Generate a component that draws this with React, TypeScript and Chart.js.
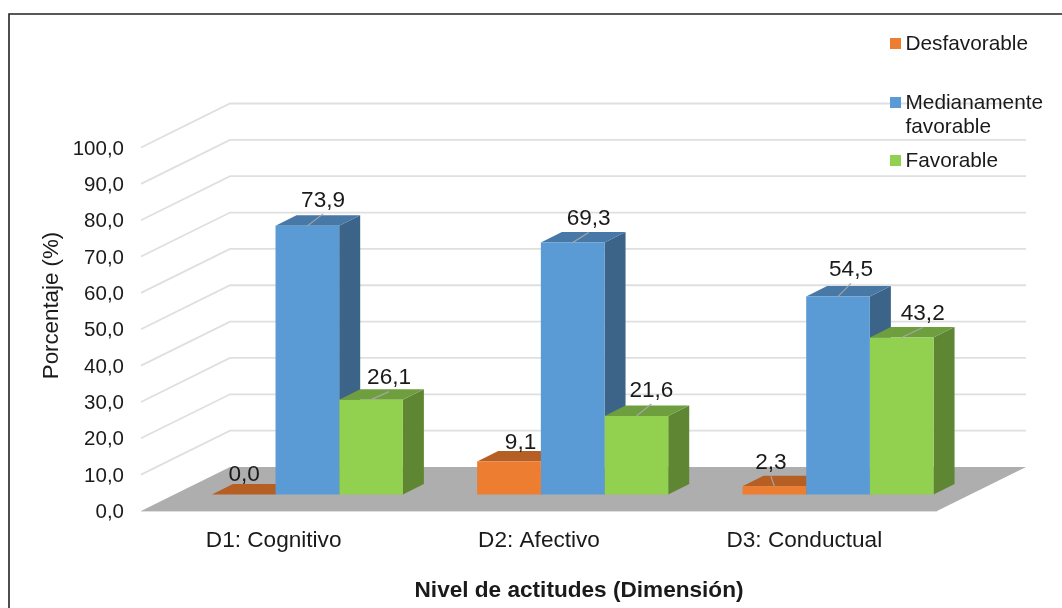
import React, { useEffect, useRef } from "react";
import { Chart, registerables } from "chart.js";

Chart.register(...registerables);

const categories = ["D1: Cognitivo", "D2: Afectivo", "D3: Conductual"];
const seriesNames = ["Desfavorable", "Medianamente favorable", "Favorable"];
const desfavorable = [0.0, 9.1, 2.3];
const medianamente = [73.9, 69.3, 54.5];
const favorable = [26.1, 21.6, 43.2];
const xTitle = "Nivel de actitudes (Dimensión)";
const yTitle = "Porcentaje (%)";

const FONT = '"Liberation Sans", Arial, sans-serif';
const TEXT = "#1a1a1a";
const FRONT = ["#ED7D31", "#5B9BD5", "#92D050"];
const TOP = ["#B55F25", "#4878A6", "#6E9E3D"];
const SIDE = ["#A85720", "#3C6488", "#5F8633"];
// 3D projection: how far the wall sits behind the axis plane, where bars stand, how deep they are
const WALL = { dx: 89, dy: -44 };
const BAR_PLANE = { dx: 33.7, dy: -16.5 };
const BAR_DEPTH = { dx: 21, dy: -10.5 };
// data-label offsets from the centre of each bar's top edge, by series then category
const LABEL_OFFSET = [
  [[0.5, -21], [11.5, -20], [-3.5, -25]],
  [[15.7, -27], [16, -25], [13, -28]],
  [[18, -23], [15, -27], [21, -25]],
];
const LEADER = [
  [false, false, true],
  [true, true, true],
  [true, true, true],
];

const fmt = (v: number) => v.toFixed(1).replace(".", ",");

const scene = {
  id: "scene",
  beforeDraw(chart: any) {
    const { ctx, width, height } = chart;
    ctx.save();
    ctx.fillStyle = "#fff";
    ctx.fillRect(0, 0, width, height);
    ctx.strokeStyle = "#222";
    ctx.lineWidth = 1.6;
    ctx.beginPath();
    ctx.moveTo(9, height);
    ctx.lineTo(9, 14);
    ctx.lineTo(width, 14);
    ctx.stroke();
    ctx.restore();
  },
  beforeDatasetsDraw(chart: any) {
    const { ctx, chartArea: a, scales } = chart;
    const y = scales.y;
    ctx.save();
    ctx.strokeStyle = "#dfdfdf";
    ctx.lineWidth = 1.8;
    for (const t of y.ticks) {
      const py = y.getPixelForValue(t.value);
      if (t.value === 0) continue;
      ctx.beginPath();
      ctx.moveTo(a.left, py);
      ctx.lineTo(a.left + WALL.dx, py + WALL.dy);
      ctx.lineTo(a.right + WALL.dx, py + WALL.dy);
      ctx.stroke();
    }
    const y0 = y.getPixelForValue(0);
    ctx.fillStyle = "#AEAEAE";
    ctx.beginPath();
    ctx.moveTo(a.left, y0);
    ctx.lineTo(a.right, y0);
    ctx.lineTo(a.right + WALL.dx, y0 + WALL.dy);
    ctx.lineTo(a.left + WALL.dx, y0 + WALL.dy);
    ctx.closePath();
    ctx.fill();
    ctx.strokeStyle = "#dfdfdf";
    ctx.lineWidth = 1;
    ctx.beginPath();
    ctx.moveTo(a.left, y0 + 0.5);
    ctx.lineTo(a.right, y0 + 0.5);
    ctx.stroke();
    ctx.restore();
    ctx.save();
    ctx.translate(BAR_PLANE.dx, BAR_PLANE.dy);
    // side and top faces, series left to right; the front faces are the library's bars drawn next
    chart.data.datasets.forEach((_: any, i: number) => {
      for (const bar of chart.getDatasetMeta(i).data) {
        const l = bar.x - bar.width / 2;
        const r = bar.x + bar.width / 2;
        const { dx, dy } = BAR_DEPTH;
        ctx.fillStyle = SIDE[i];
        ctx.beginPath();
        ctx.moveTo(r, bar.base);
        ctx.lineTo(r + dx, bar.base + dy);
        ctx.lineTo(r + dx, bar.y + dy);
        ctx.lineTo(r, bar.y);
        ctx.closePath();
        ctx.fill();
        ctx.fillStyle = TOP[i];
        ctx.beginPath();
        ctx.moveTo(l, bar.y);
        ctx.lineTo(l + dx, bar.y + dy);
        ctx.lineTo(r + dx, bar.y + dy);
        ctx.lineTo(r, bar.y);
        ctx.closePath();
        ctx.fill();
      }
    });
  },
  afterDatasetsDraw(chart: any) {
    const { ctx } = chart;
    ctx.restore();
    ctx.save();
    ctx.font = `22.6px ${FONT}`;
    ctx.textAlign = "center";
    ctx.textBaseline = "middle";
    chart.data.datasets.forEach((ds: any, i: number) => {
      chart.getDatasetMeta(i).data.forEach((bar: any, j: number) => {
        const bx = bar.x + BAR_PLANE.dx;
        const by = bar.y + BAR_PLANE.dy;
        const [ox, oy] = LABEL_OFFSET[i][j];
        if (LEADER[i][j]) {
          ctx.strokeStyle = "#a6a6a6";
          ctx.lineWidth = 1.2;
          ctx.beginPath();
          ctx.moveTo(bx, by);
          ctx.lineTo(bx + ox, by + oy + 15);
          ctx.stroke();
        }
        ctx.fillStyle = TEXT;
        ctx.fillText(fmt(ds.data[j]), bx + ox, by + oy + 1.5);
      });
    });
    ctx.restore();
  },
  afterDraw(chart: any) {
    const { ctx } = chart;
    ctx.save();
    ctx.fillStyle = TEXT;
    ctx.textBaseline = "middle";
    ctx.textAlign = "left";
    ctx.font = `20.8px ${FONT}`;
    const legendY = [43.5, 102.5, 160.5];
    chart.data.datasets.forEach((ds: any, i: number) => {
      ctx.fillStyle = FRONT[i];
      ctx.fillRect(890, legendY[i] - 5.5, 11, 11);
      ctx.fillStyle = TEXT;
      const words = i === 1 ? ds.label.split(" ") : [ds.label];
      words.forEach((w: string, k: number) => ctx.fillText(w, 905.5, legendY[i] + 0.5 + k * 24.5));
    });
    ctx.textAlign = "center";
    ctx.font = `bold 22.6px ${FONT}`;
    ctx.fillText(xTitle, 579, 591);
    ctx.font = `22.3px ${FONT}`;
    ctx.translate(51.5, 305.5);
    ctx.rotate(-Math.PI / 2);
    ctx.fillText(yTitle, 0, 0);
    ctx.restore();
  },
};

export default function App() {
  const ref = useRef<HTMLCanvasElement>(null);
  useEffect(() => {
    const chart = new Chart(ref.current as HTMLCanvasElement, {
      type: "bar",
      data: {
        labels: categories,
        datasets: [desfavorable, medianamente, favorable].map((data, i) => ({
          label: seriesNames[i],
          data,
          backgroundColor: FRONT[i],
          borderWidth: 0,
          clip: false as any,
          categoryPercentage: 0.72,
          barPercentage: 1,
        })),
      },
      plugins: [scene],
      options: {
        animation: false,
        responsive: false,
        devicePixelRatio: 1,
        layout: { padding: { left: 0, right: 125, top: 147.5, bottom: 0 } },
        plugins: { legend: { display: false }, tooltip: { enabled: false } },
        scales: {
          x: {
            grid: { display: false },
            border: { display: false },
            ticks: {
              color: TEXT,
              font: { family: FONT, size: 22.6 },
              padding: 8,
              maxRotation: 0,
            },
            afterFit: (s: any) => {
              s.height = 97;
            },
          },
          y: {
            min: 0,
            max: 100,
            grid: { display: false, drawTicks: false },
            border: { display: false },
            ticks: {
              stepSize: 10,
              color: TEXT,
              font: { family: FONT, size: 20.5 },
              padding: 17,
              labelOffset: 1.5,
              callback: (v: any) => fmt(Number(v)),
            },
            afterFit: (s: any) => {
              s.width = 141;
            },
          },
        },
      },
    });
    return () => chart.destroy();
  }, []);
  return (
    <canvas
      ref={ref}
      width={1062}
      height={608}
      style={{ position: "absolute", left: 0, top: 0, display: "block" }}
    />
  );
}
